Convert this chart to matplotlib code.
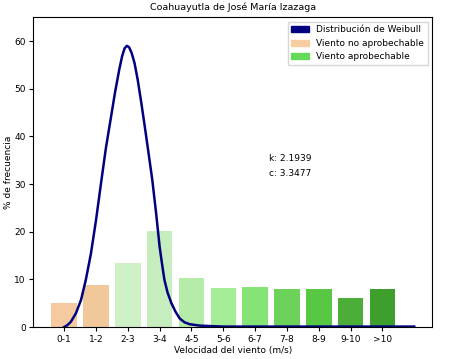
import matplotlib
matplotlib.use("Agg")
import matplotlib.pyplot as plt
import matplotlib.patches as mpatches

# wind speed classes and frequency (%)
rangos = ['0-1', '1-2', '2-3', '3-4', '4-5', '5-6', '6-7', '7-8', '8-9', '9-10', '>10']
frecuencia = [5.0, 8.8, 13.4, 20.1, 10.3, 8.1, 8.5, 8.0, 7.9, 6.0, 8.0]
colores = ['#f5caa0', '#f0c89a', '#cdf0c6', '#c5edbd', '#b5ecaa', '#a4ec95',
           '#85e475', '#6cd25a', '#58c744', '#4bae38', '#3da02c']

# weibull curve (x in bar positions, y in %)
weibull_x = [0.0, 0.1, 0.21, 0.37, 0.53, 0.68, 0.84, 1.0, 1.16, 1.31, 1.45, 1.6, 1.73,
             1.82, 1.9, 1.97, 2.04, 2.12, 2.21, 2.31, 2.42, 2.53, 2.63, 2.77, 2.89, 3.0,
             3.08, 3.15, 3.25, 3.37, 3.5, 3.63, 3.78, 3.94, 4.26, 4.6, 5.0, 6.0, 8.0, 11.0]
weibull_y = [0.0, 0.4, 1.1, 2.9, 5.7, 9.9, 15.4, 22.4, 30.3, 37.5, 43.2, 49.3, 54.0,
             56.8, 58.5, 59.0, 58.7, 57.5, 55.4, 51.9, 47.2, 42.2, 37.5, 30.8, 23.8, 16.8,
             13.0, 9.9, 7.2, 5.0, 3.2, 1.8, 1.0, 0.6, 0.3, 0.2, 0.1, 0.1, 0.1, 0.1]

k = 2.1939
c = 3.3477

fig = plt.figure(figsize=(4.6, 3.59), dpi=100)
ax = fig.add_axes([0.0724, 0.089, 0.8676, 0.863])

pos = list(range(len(rangos)))
ax.bar(pos, frecuencia, width=0.8, color=colores)
ax.plot(weibull_x, weibull_y, color='#000080', linewidth=1.8)

ax.set_xticks(pos)
ax.set_xticklabels(rangos)
ax.set_ylim(0, 65)
ax.tick_params(labelsize=6.5, length=3, pad=2.5)

ax.text(6.45, 35.3, 'k: ' + str(k), fontsize=6.5, va='center')
ax.text(6.45, 32.2, 'c: ' + str(c), fontsize=6.5, va='center')

ax.set_title('Coahuayutla de José María Izazaga', fontsize=6.8, pad=5)
ax.set_xlabel('Velocidad del viento (m/s)', fontsize=6.5, labelpad=2)
ax.set_ylabel('% de frecuencia', fontsize=6.5, labelpad=1)

handles = [mpatches.Patch(color='#000080', label='Distribución de Weibull'),
           mpatches.Patch(color='#f5cda0', label='Viento no aprobechable'),
           mpatches.Patch(color='#66d95a', label='Viento aprobechable')]
ax.legend(handles=handles, loc='upper right', fontsize=6.5, fancybox=False,
          edgecolor='#cccccc')

fig.savefig('out.png', dpi=100)
